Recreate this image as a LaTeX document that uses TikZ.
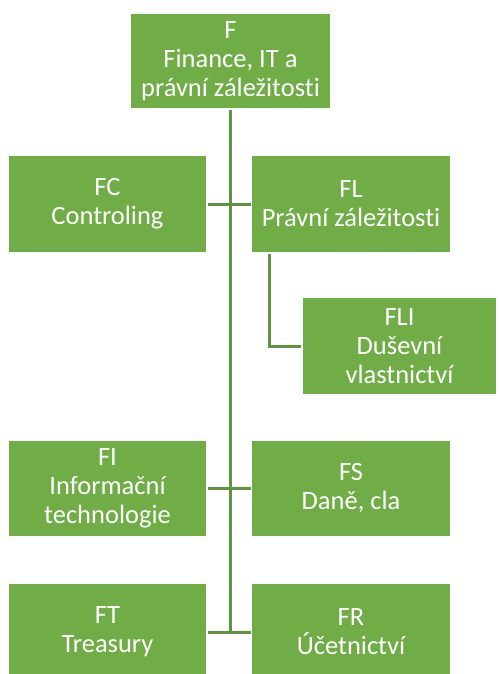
\documentclass[tikz,border=0pt]{standalone}
\usepackage{fontspec}
\setmainfont{Carlito}[Ligatures=NoCommon]
\definecolor{boxgreen}{HTML}{70AD47}
\definecolor{linegreen}{HTML}{5F9440}
\tikzset{
  unit/.style = {
    fill=boxgreen, draw=white, line width=1.5pt, text=white,
    minimum width=199pt, minimum height=98pt, inner sep=0pt,
    align=center, font=\fontsize{26.5}{29}\selectfont
  },
  link/.style = {draw=linegreen, line width=3pt}
}

\begin{document}
\begin{tikzpicture}[x=1pt,y=-1pt]
  \useasboundingbox (0,0) rectangle (498,674);
  \clip (0,0) rectangle (498,674);
  % units
  \node[unit,minimum width=201pt,minimum height=96pt] (F) at (230.5,61) {F\\Finance, IT a\\právní záležitosti};
  \node[unit] (FC) at (107.5,204) {FC\\Controling};
  \node[unit] (FL) at (351,204) {FL\\Právní záležitosti};
  \node[unit,minimum width=195pt] (FLI) at (399.5,346) {FLI\\Duševní\\vlastnictví};
  \node[unit,minimum height=97pt] (FI) at (107.5,488.5) {FI\\Informační\\technologie};
  \node[unit,minimum height=97pt] (FS) at (351,488.5) {FS\\Daně, cla};
  \node[unit] (FT) at (107.5,632) {FT\\Treasury};
  \node[unit] (FR) at (351,632) {FR\\Účetnictví};
  % links
  \draw[link] (F.south) -- (F.south |- FT.east);
  \draw[link] (FC.east) -- (FL.west);
  \draw[link] (FI.east) -- (FS.west);
  \draw[link] (FT.east) -- (FR.west);
  \draw[link] ([xshift=19pt]FL.south west) |- (FLI.west);
\end{tikzpicture}
\end{document}
